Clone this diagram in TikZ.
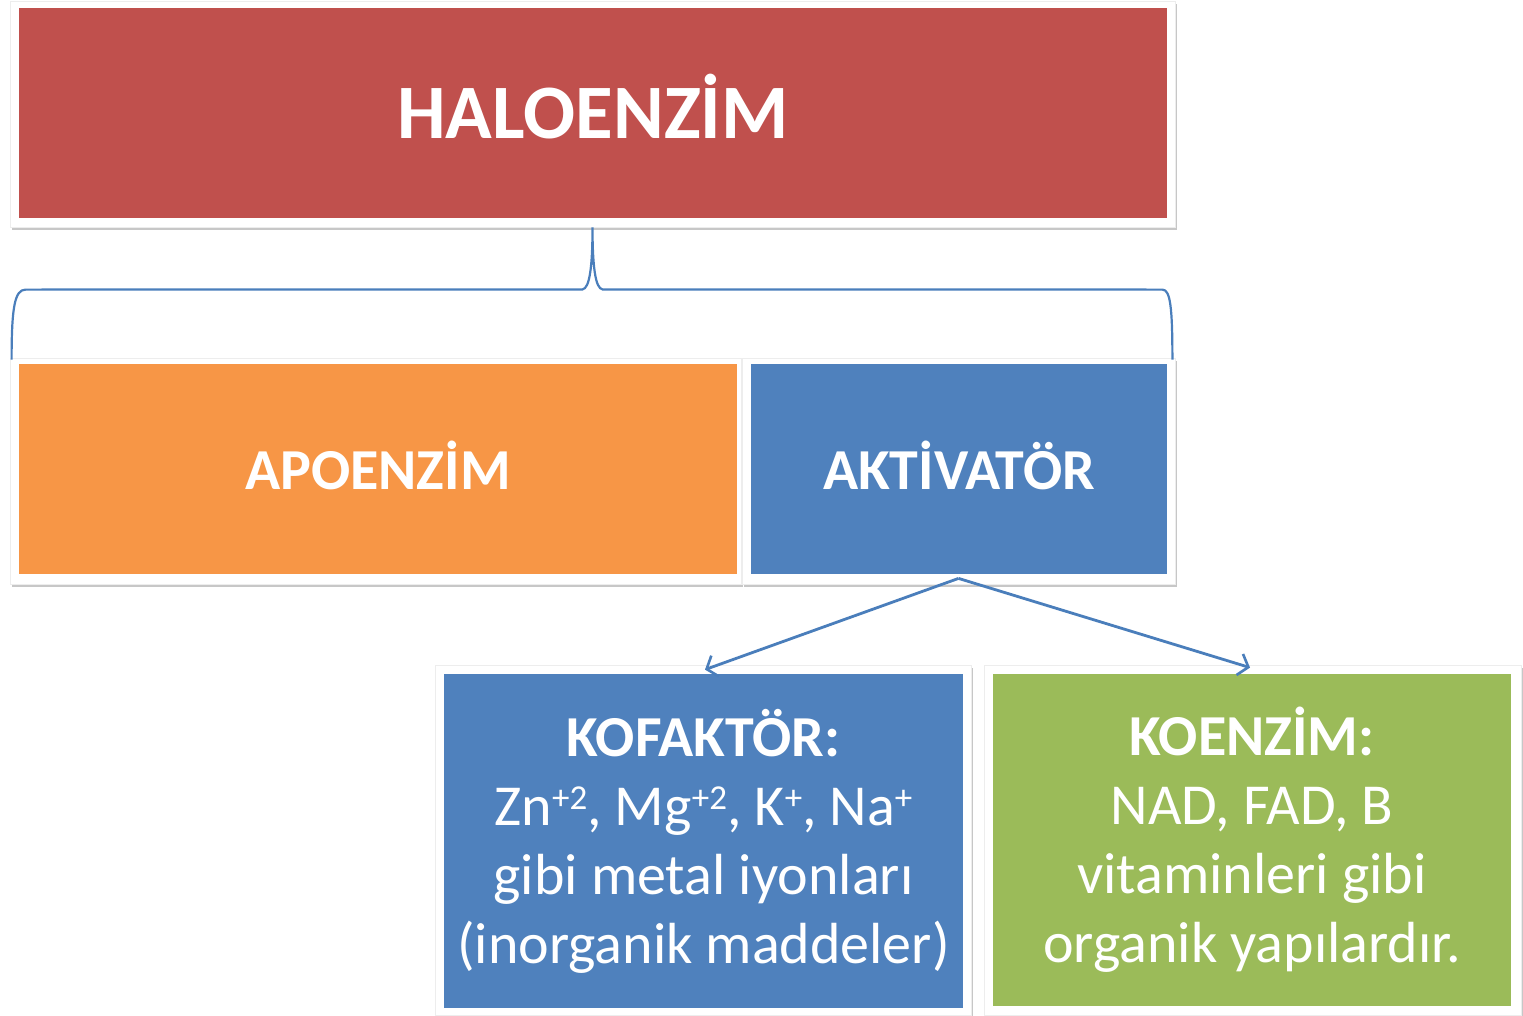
\documentclass[tikz,border=0pt]{standalone}
\usepackage{fontspec}
\setmainfont{Carlito}
\usetikzlibrary{arrows.meta,shadows}

\definecolor{haloRed}{HTML}{C0504D}
\definecolor{apoOrange}{HTML}{F79646}
\definecolor{aktBlue}{HTML}{4F81BD}
\definecolor{koeGreen}{HTML}{9BBB59}
\definecolor{linkBlue}{HTML}{4A7EBB}

% raised charge label, about cap-high
\newcommand\ionchg[1]{\raisebox{16pt}{\fontsize{35}{35}\selectfont #1}}

\tikzset{
  framebox/.style={rectangle, fill=white, draw=black!7, line width=0.8pt,
    inner sep=0pt,
    drop shadow={shadow xshift=1.5pt, shadow yshift=-2.5pt, opacity=0.22, fill=black}},
  colorbox/.style={rectangle, inner sep=0pt, text=white, align=center},
  link/.style={draw=linkBlue, line width=2.8pt, -{Straight Barb[length=9pt,width=22pt,line width=2.6pt]}},
  bracket/.style={draw=linkBlue, line width=2.2pt}
}

\begin{document}
\begin{tikzpicture}[x=1pt,y=-1pt]
  \useasboundingbox (0,0) rectangle (1523,1015);

  % white mounting frames
  \node[framebox, minimum width=1165pt, minimum height=226pt] (haloF) at (592.5,114) {};
  \node[framebox, minimum width=731pt, minimum height=226pt] (apoF) at (375.5,471) {};
  \node[framebox, minimum width=433pt, minimum height=226pt] (aktF) at (958.5,471) {};
  \node[framebox, minimum width=536pt, minimum height=350pt] (kofF) at (703,840) {};
  \node[framebox, minimum width=537pt, minimum height=350pt] (koeF) at (1252.5,840) {};

  % coloured boxes
  \node[colorbox, fill=haloRed, minimum width=1148pt, minimum height=210pt] (halo) at (593,113) {};
  \node[colorbox, font=\fontsize{77}{90}\selectfont\bfseries] (haloT) at (593,107) {HALOENZİM};
  \node[colorbox, fill=apoOrange, minimum width=718pt, minimum height=210pt] (apo) at (378,469) {};
  \node[colorbox, font=\fontsize{58}{66}\selectfont\bfseries] (apoT) at (378,465) {APOENZİM};
  \node[colorbox, fill=aktBlue, minimum width=416pt, minimum height=210pt] (akt) at (959,469) {};
  \node[colorbox, font=\fontsize{58}{66}\selectfont\bfseries] (aktT) at (959,465) {AKTİVATÖR};
  \node[colorbox, fill=aktBlue, minimum width=519pt, minimum height=334pt,
        font=\fontsize{58}{69}\selectfont] (kof) at (703.5,841)
        {\textbf{KOFAKTÖR:}\\Zn\ionchg{+2}, Mg\ionchg{+2}, K\ionchg{+}, Na\ionchg{+}\\gibi metal iyonları\\(inorganik maddeler)};
  \node[colorbox, fill=koeGreen, minimum width=518pt, minimum height=332pt,
        font=\fontsize{58}{69}\selectfont] (koe) at (1252,840)
        {\textbf{KOENZİM:}\\NAD, FAD, B\\vitaminleri gibi\\organik yapılardır.};

  % brace joining the two parts to the whole
  \coordinate (bl) at (apoF.north west);
  \coordinate (br) at (aktF.north east);
  \coordinate (tip) at (haloF.south);
  \draw[bracket] ([xshift=2pt,yshift=-2pt]bl)
    .. controls ([xshift=2pt,yshift=50pt]bl) and ([xshift=5pt,yshift=68pt]bl) .. ([xshift=16pt,yshift=68pt]bl)
    -- ([xshift=-10pt,yshift=-62pt]tip)
    .. controls ([xshift=-3pt,yshift=-61pt]tip) and ([yshift=-40pt]tip) .. (tip)
    .. controls ([yshift=-40pt]tip) and ([xshift=3pt,yshift=-61pt]tip) .. ([xshift=10pt,yshift=-62pt]tip)
    -- ([xshift=-13pt,yshift=68pt]br)
    .. controls ([xshift=-5pt,yshift=68pt]br) and ([xshift=-3pt,yshift=50pt]br) .. ([xshift=-3pt,yshift=-2pt]br);

  % arrows from the activator to its two kinds
  \coordinate (src) at ([yshift=6pt]aktF.south);
  \draw[link] (src) -- ([xshift=2pt,yshift=-5pt]kofF.north);
  \draw[link] (src) -- ([xshift=-2.5pt,yshift=-3pt]koeF.north);
\end{tikzpicture}
\end{document}
